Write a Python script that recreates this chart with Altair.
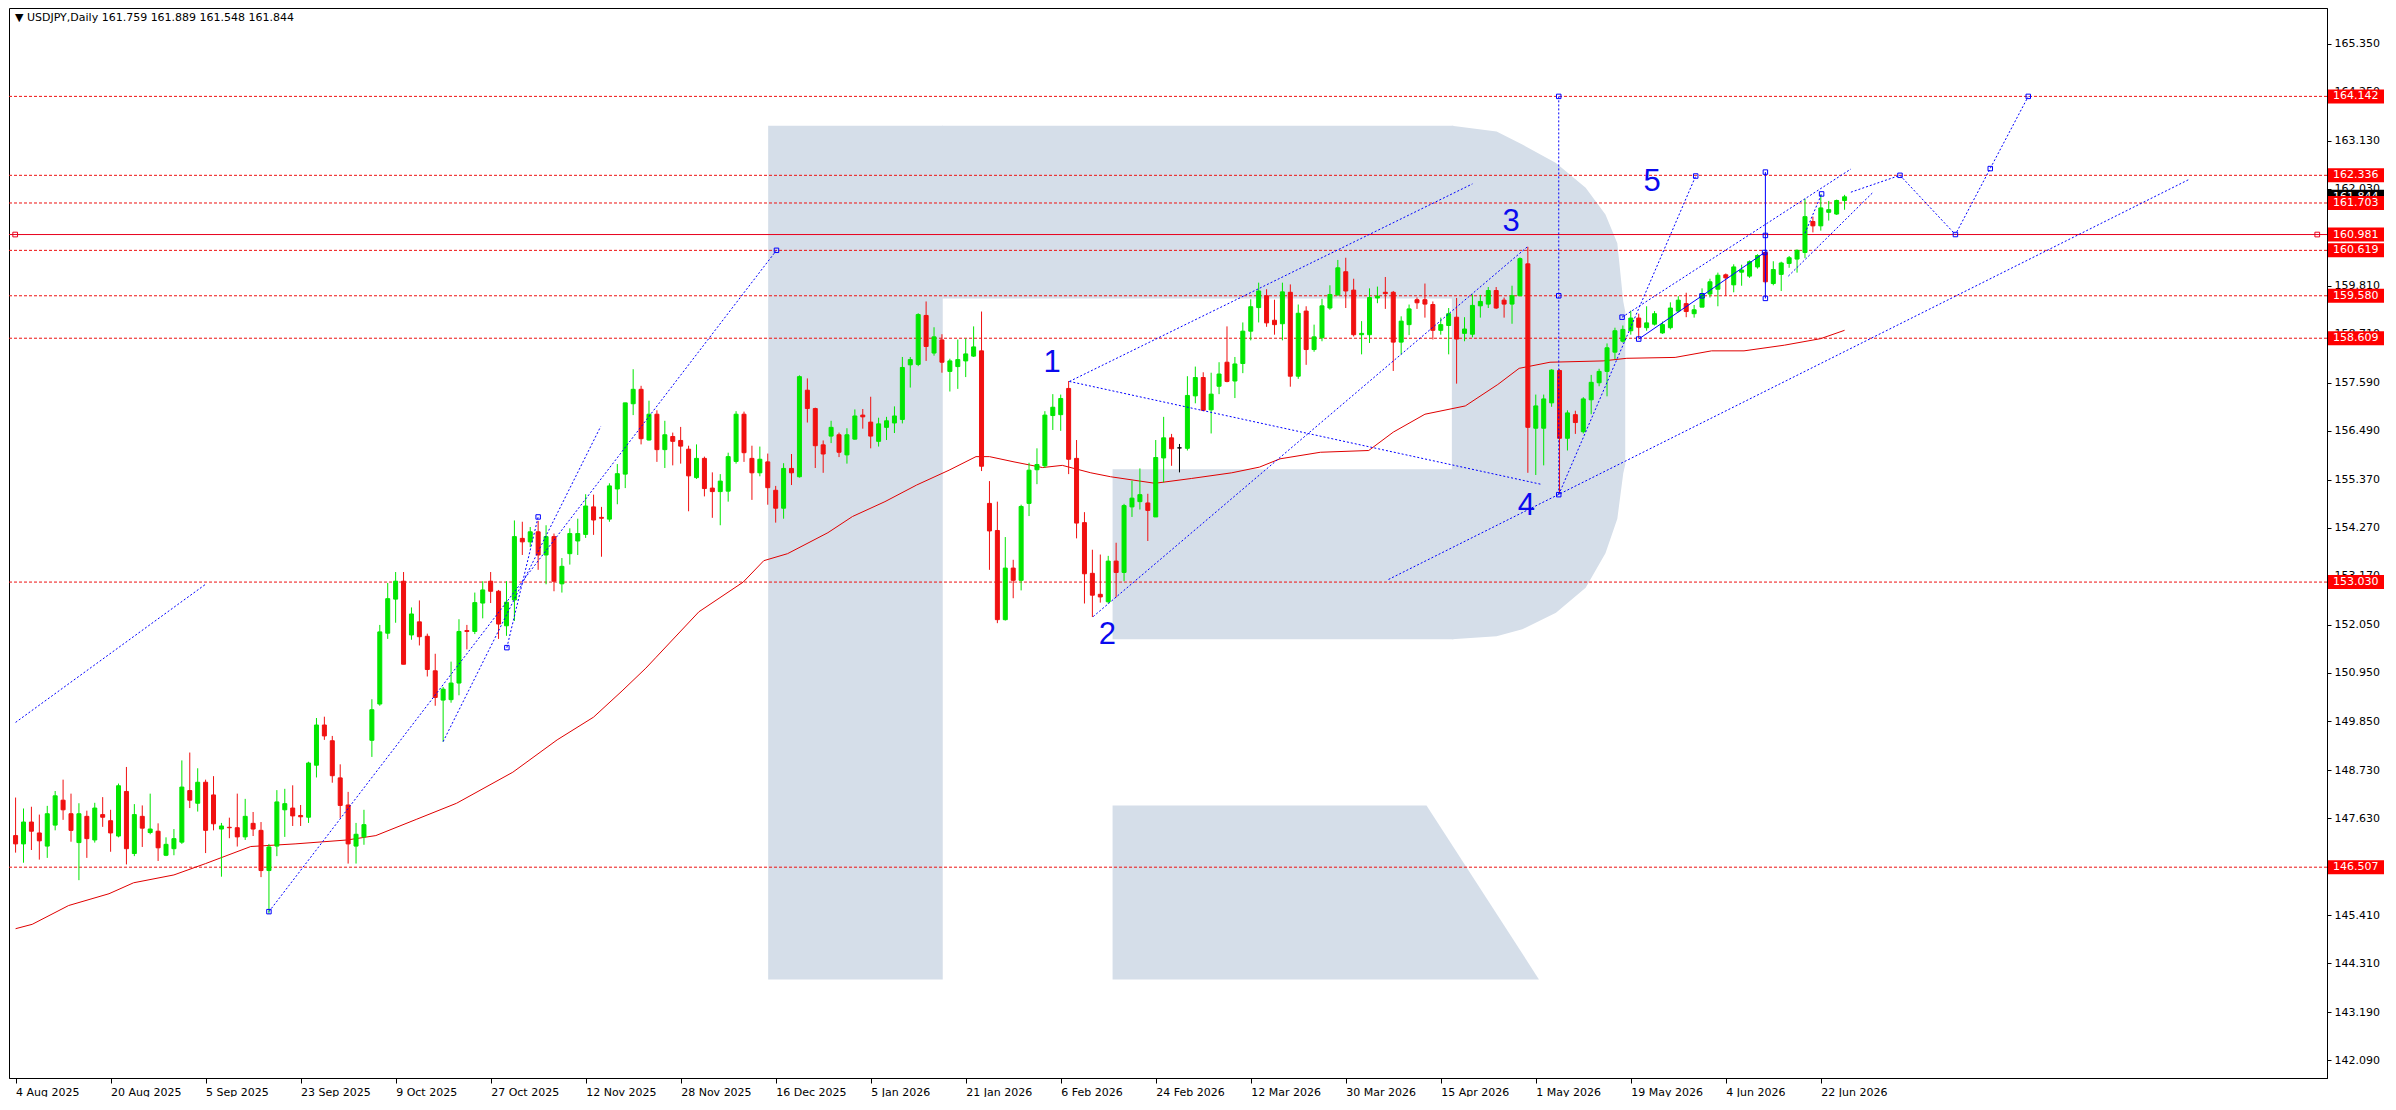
import altair as alt
import pandas as pd

# ---------------- data (bar index 0 = 4 Aug 2025) ----------------
OPEN = [147.23,147.04,147.54,147.29,146.99,147.47,148.04,147.73,147.07,147.67,
        147.13,147.71,147.57,147.22,148.24,146.82,147.67,147.30,147.33,146.78,
        146.93,147.08,148.26,147.97,148.45,148.16,147.38,147.42,147.41,147.20,
        147.51,147.35,146.43,146.99,147.82,147.86,147.69,147.65,148.84,149.76,
        149.40,148.55,147.93,146.99,147.20,149.41,150.24,151.86,152.64,153.05,
        151.82,152.12,151.79,151.00,150.33,150.34,150.72,151.92,151.90,152.55,
        153.05,152.82,152.03,152.62,154.03,153.95,154.18,153.65,154.07,152.99,
        153.68,153.97,154.12,154.75,154.51,154.47,155.16,155.50,157.11,157.44,
        156.28,156.87,156.06,156.36,156.27,156.07,155.42,155.86,155.18,155.10,
        155.11,155.79,156.87,155.86,155.53,155.78,155.13,154.72,155.63,155.44,
        157.42,157.00,156.17,156.37,156.40,155.94,156.30,156.85,156.69,156.25,
        156.57,156.67,156.75,158.00,158.01,159.13,158.27,158.57,157.85,157.96,
        158.09,158.20,158.32,154.83,154.21,152.17,153.35,153.07,154.83,155.60,
        155.69,156.84,156.86,157.46,155.86,154.39,153.23,152.75,152.58,153.51,
        153.25,154.75,154.87,154.84,154.52,155.87,156.33,156.10,156.09,157.29,
        157.71,156.97,157.51,158.06,157.63,158.03,158.77,159.31,159.58,159.02,
        158.94,159.66,157.74,159.23,158.35,158.62,159.30,159.60,160.13,159.71,
        158.69,158.69,159.53,159.66,159.66,158.52,158.92,159.49,159.49,159.38,
        158.79,158.90,159.09,158.72,158.70,159.35,159.39,159.70,159.48,159.39,
        159.58,160.31,156.55,156.55,157.13,157.87,156.32,156.86,156.47,157.20,
        157.59,157.85,158.29,158.54,158.78,159.07,158.85,158.93,158.73,158.85,
        159.23,159.40,159.17,159.32,159.62,159.73,160.06,159.83,160.12,160.03,
        160.24,160.57,159.86,160.07,160.32,160.42,160.57,161.28,161.18,161.49,
        161.45,161.759]
HIGH = [148.10,147.85,147.89,147.71,147.91,148.25,148.51,148.19,147.97,147.80,
        147.98,148.11,147.82,148.42,148.80,147.95,147.92,148.19,147.51,147.19,
        147.38,148.95,149.13,148.77,148.51,148.59,147.52,147.64,148.19,148.07,
        147.77,147.54,147.04,148.27,148.30,148.38,147.93,148.92,149.92,149.95,
        149.51,148.86,148.23,147.52,147.82,150.35,152.05,153.01,153.26,153.26,
        152.45,152.61,151.85,151.39,150.63,151.21,152.18,152.05,152.79,153.05,
        153.26,152.85,153.05,154.44,154.41,154.29,154.43,154.33,154.14,153.58,
        154.26,154.48,155.04,155.03,154.75,155.29,155.73,157.13,157.90,157.52,
        157.18,156.96,156.72,156.45,156.58,156.15,156.18,155.90,155.54,155.50,
        155.99,156.94,156.93,156.15,156.13,155.97,155.23,155.75,155.96,157.76,
        157.69,157.02,156.27,156.72,156.45,156.55,156.98,156.99,157.27,156.79,
        156.81,157.05,158.18,158.18,159.18,159.45,158.86,158.70,158.14,158.58,
        158.60,158.88,159.22,155.34,154.87,154.06,153.54,154.80,155.76,156.09,
        156.94,157.33,157.32,157.63,156.28,154.63,153.77,153.66,153.63,153.93,
        154.82,155.35,155.63,155.05,156.28,156.81,156.42,156.19,157.74,157.96,
        157.83,157.82,158.06,158.88,158.18,158.97,159.50,159.88,159.73,159.49,
        159.88,159.84,159.38,159.34,158.92,159.51,159.82,160.40,160.45,159.97,
        159.00,159.75,159.79,160.01,159.69,159.11,159.38,159.54,159.86,159.45,
        159.08,159.30,159.53,159.09,159.61,159.60,159.78,159.78,159.54,159.81,
        160.46,160.70,157.32,157.32,157.90,157.90,156.96,156.95,157.26,157.77,
        157.91,158.49,158.85,158.90,159.24,159.17,159.34,159.23,158.99,159.43,
        159.57,159.65,159.37,159.75,159.97,160.11,160.09,160.30,160.29,160.39,
        160.53,160.60,160.37,160.36,160.49,160.64,161.80,161.39,161.90,161.75,
        161.78,161.889]
LOW = [146.84,146.61,146.90,146.68,146.72,147.35,147.59,147.09,146.21,146.72,
       147.07,147.43,146.86,147.19,146.57,146.76,146.97,147.26,146.65,146.76,
       146.78,147.04,147.86,147.78,146.83,147.35,146.29,147.17,146.98,147.13,
       147.22,146.28,145.44,146.76,147.20,147.45,147.45,147.52,148.56,149.42,
       148.44,147.63,146.59,146.59,147.02,149.03,150.20,151.73,152.10,151.15,
       151.71,151.58,150.87,150.20,149.38,150.27,150.44,151.49,151.84,152.20,
       152.55,151.73,151.80,152.14,153.65,153.83,153.31,152.98,152.82,152.79,
       153.43,153.65,154.04,154.11,153.61,154.41,154.81,155.18,156.85,156.18,
       156.27,155.78,155.64,155.70,155.74,154.65,155.39,154.99,154.50,154.33,
       154.87,155.74,155.78,154.91,155.45,154.80,154.39,154.48,155.25,155.42,
       156.68,155.64,155.53,156.21,155.89,155.74,156.29,156.54,156.09,156.13,
       156.28,156.44,156.66,157.48,157.97,158.09,158.21,157.82,157.39,157.45,
       157.72,158.18,155.57,153.31,152.09,152.15,152.66,152.84,154.54,155.27,
       155.64,156.51,156.49,155.50,154.03,152.54,152.23,152.56,152.54,152.68,
       153.05,154.52,154.69,153.97,154.52,155.31,155.69,155.54,156.04,157.12,
       156.94,156.43,157.33,157.60,157.24,157.81,158.56,158.97,158.87,158.69,
       158.56,157.50,157.68,158.00,158.30,158.54,159.26,159.58,159.30,158.65,
       158.24,158.50,159.41,159.28,157.86,158.24,158.68,159.28,159.08,158.58,
       158.69,158.24,157.57,158.54,158.63,159.08,159.30,159.28,159.08,158.94,
       159.58,155.53,155.48,155.70,157.04,155.06,156.04,156.42,156.43,156.87,
       157.51,157.28,158.13,158.51,158.69,158.60,158.78,158.90,158.71,158.81,
       159.20,159.09,159.08,159.32,159.54,159.34,159.58,159.66,159.81,159.99,
       160.20,159.86,159.82,159.69,160.22,160.11,160.44,161.03,161.07,161.30,
       161.43,161.548]
CLOSE = [147.04,147.54,147.33,147.11,147.73,148.14,147.82,147.35,147.73,147.16,
         147.86,147.65,147.29,148.37,146.93,147.71,147.40,147.38,146.95,147.03,
         147.16,148.34,148.04,148.45,147.35,147.50,147.45,147.41,147.20,147.67,
         147.38,146.43,146.97,148.00,147.96,147.68,147.66,148.89,149.76,149.51,
         148.60,147.92,147.04,147.26,147.48,150.11,151.89,152.65,153.05,151.15,
         152.30,151.78,151.03,150.39,150.58,150.72,151.90,151.90,152.56,152.85,
         152.82,152.07,152.57,154.07,153.95,154.18,153.65,154.07,153.05,153.39,
         154.14,154.14,154.77,154.45,154.49,155.23,155.51,157.13,157.44,156.31,
         156.87,156.06,156.40,156.25,156.14,155.46,155.86,155.17,155.10,155.34,
         155.90,156.87,155.99,155.53,155.84,155.19,154.72,155.63,155.53,157.73,
         157.00,156.15,155.96,156.57,156.00,156.40,156.83,156.81,156.37,156.65,
         156.72,156.83,157.94,158.12,159.15,158.42,158.64,158.06,158.09,158.12,
         158.25,158.41,155.68,154.20,152.17,153.35,153.07,154.76,155.59,155.72,
         156.85,157.03,157.23,155.84,154.38,153.22,152.73,152.69,153.51,153.25,
         154.78,154.95,155.03,154.67,155.88,156.33,156.08,156.10,157.30,157.71,
         156.96,157.33,157.79,157.62,158.02,158.77,159.33,159.69,158.96,158.92,
         159.67,157.74,159.18,158.35,158.64,159.35,159.61,160.22,159.69,158.69,
         158.72,159.54,159.57,159.63,158.52,159.00,159.28,159.42,159.39,158.79,
         158.92,159.17,158.59,158.82,159.36,159.45,159.70,159.30,159.39,159.58,
         160.43,156.57,157.06,157.22,157.88,156.32,156.90,156.68,157.22,157.60,
         157.85,158.39,158.78,158.81,159.07,158.86,158.96,159.17,158.92,159.30,
         159.48,159.22,159.26,159.62,159.90,160.05,159.99,160.24,160.17,160.36,
         160.50,159.90,160.18,160.33,160.45,160.62,161.39,161.18,161.59,161.55,
         161.76,161.844]

# 50-period moving average (bar index, price)
MA_BAR = [0, 2.1, 6.7, 11.8, 14.9, 20, 24, 29.7, 35.3, 41.9, 45.5, 50.6, 55.7,
          62.8, 68.4, 73, 76.6, 79.6, 80.9, 86.3, 91.9, 94.5, 97.5, 102.6, 105.7,
          109.8, 113.8, 117.9, 121.3, 123, 126.1, 129.7, 132.2, 135.8, 138.3,
          143.9, 148.5, 153.6, 157.1, 159.7, 164.8, 170.9, 174, 178, 183.1, 187.2,
          189.9, 193.8, 200.5, 203.5, 209.6, 214.2, 218.3, 223.4, 228, 231]
MA_VAL = [145.10, 145.20, 145.63, 145.90, 146.15, 146.33, 146.59, 146.98, 147.04,
          147.13, 147.23, 147.60, 147.97, 148.68, 149.42, 149.94, 150.54, 151.06,
          151.31, 152.35, 153.03, 153.52, 153.68, 154.16, 154.53, 154.87, 155.25,
          155.59, 155.90, 155.90, 155.78, 155.65, 155.70, 155.53, 155.44, 155.29,
          155.40, 155.53, 155.66, 155.85, 156.00, 156.04, 156.46, 156.87, 157.06,
          157.55, 157.92, 158.06, 158.09, 158.15, 158.17, 158.32, 158.32, 158.45,
          158.60, 158.79]

LEVELS_DASHED = [164.142, 162.336, 161.703, 160.619, 159.580, 158.609, 153.030, 146.507]
LEVEL_SOLID = 160.981
CURRENT = 161.844
LEVEL_LABELS = ["164.142", "162.336", "161.703", "160.619", "159.580", "158.609",
                "153.030", "146.507"]

Y_TICKS = [165.350, 164.250, 163.130, 162.030, 160.920, 159.810, 158.710, 157.590,
           156.490, 155.370, 154.270, 153.170, 152.050, 150.950, 149.850, 148.730,
           147.630, 146.530, 145.410, 144.310, 143.190, 142.090]
X_TICK_BARS = [0, 12, 24, 36, 48, 60, 72, 84, 96, 108, 120, 132, 144, 156, 168,
               180, 192, 204, 216, 228]
X_TICK_LABELS = ["4 Aug 2025", "20 Aug 2025", "5 Sep 2025", "23 Sep 2025",
                 "9 Oct 2025", "27 Oct 2025", "12 Nov 2025", "28 Nov 2025",
                 "16 Dec 2025", "5 Jan 2026", "21 Jan 2026", "6 Feb 2026",
                 "24 Feb 2026", "12 Mar 2026", "30 Mar 2026", "15 Apr 2026",
                 "1 May 2026", "19 May 2026", "4 Jun 2026", "22 Jun 2026"]

# blue dotted analysis lines: (id, bar, price)
DOT_ID = ["a","a","b","b","c","c","d","d","e","e","f","f","g","g","h","h","i","i",
          "v","v","k","k","m","m","n","n","p","p","p","p"]
DOT_X = [0.0, 24.0, 32.0, 96.1, 54.0, 73.9, 62.05, 66.0, 133.1, 192.6, 133.1, 184.0,
         136.1, 191.0, 173.4, 274.6, 194.9, 212.2, 194.9, 194.9, 202.9, 231.8,
         223.9, 234.5, 226.0, 228.1, 231.8, 238.0, 245.0, 254.2]
DOT_Y = [149.82, 152.98, 145.49, 160.62, 149.38, 156.59, 151.53, 154.52, 157.62,
         155.27, 157.62, 162.14, 152.24, 160.71, 153.09, 162.25, 155.03, 162.32,
         164.142, 155.03, 159.09, 162.48, 160.03, 161.93, 161.01, 161.91, 161.95,
         162.336, 160.981, 164.142]
SOLID_ID = ["s", "s", "s", "t", "t"]
SOLID_X = [205.0, 213.0, 220.9, 221.0, 221.0]
SOLID_Y = [158.59, 159.58, 160.57, 162.41, 159.52]
MARK_X = [32.0, 96.1, 62.05, 66.0, 194.9, 194.9, 194.9, 212.2, 202.9, 205.0, 213.0,
          220.9, 221.0, 221.0, 221.0, 228.1, 238.0, 245.0, 249.4, 254.2]
MARK_Y = [145.49, 160.62, 151.53, 154.52, 164.142, 159.58, 155.03, 162.32, 159.09,
          158.59, 159.58, 160.57, 162.41, 160.96, 159.52, 161.91, 162.336, 160.981,
          162.49, 164.142]

WAVE_TEXT = ["1", "2", "3", "4", "5"]
WAVE_X = [130.9, 137.9, 188.9, 190.8, 206.7]
WAVE_Y = [158.05, 151.83, 161.27, 154.77, 162.18]

# watermark "R" logo pieces (bar index / price units)
LOGO_RX = [95.05, 117.0, 138.55]
LOGO_RX2 = [117.1, 181.6, 181.6]
LOGO_RY = [143.94, 159.52, 151.72]
LOGO_RY2 = [163.47, 163.47, 155.61]
BOWL_X = [181.4, 187.05, 190.3, 194.55, 198.3, 200.8, 202.3, 203.05, 203.3]
BOWL_TOP = [163.47, 163.34, 163.04, 162.62, 162.05, 161.44, 160.78, 159.45, 159.22]
BOWL_BOT = [151.72, 151.79, 151.95, 152.33, 152.90, 153.69, 154.48, 155.52, 155.72]
LEG_X = [138.55, 178.2, 192.4]
LEG_TOP = [147.92, 147.92, 143.94]
LEG_BOT = [143.94, 143.94, 143.94]

HEADER = "\u25BC USDJPY,Daily  161.759 161.889 161.548 161.844"

# ---------------- build ----------------
W, H = 2318, 1070
XDOM = [-0.2, 291.3]
YDOM = [141.684, 166.164]
FONT = "DejaVu Sans"
BLUE = "#0000ff"
RED = "#ee1111"

n = len(OPEN)
dirs = ["up" if c > o else ("down" if c < o else "doji") for o, c in zip(OPEN, CLOSE)]
candles = pd.DataFrame({
    "x": list(range(n)), "o": OPEN, "h": HIGH, "l": LOW, "c": CLOSE, "dir": dirs,
    "bt": [max(o, c) for o, c in zip(OPEN, CLOSE)],
    "bb": [min(o, c) for o, c in zip(OPEN, CLOSE)],
})
ma = pd.DataFrame({"x": MA_BAR, "y": MA_VAL})
lv = pd.DataFrame({"y": LEVELS_DASHED, "t": LEVEL_LABELS})
lsolid = pd.DataFrame({"y": [LEVEL_SOLID], "t": ["160.981"]})
lcur = pd.DataFrame({"y": [CURRENT], "t": ["161.844"]})
lsq = pd.DataFrame({"x": [-0.05, 290.7], "y": [LEVEL_SOLID, LEVEL_SOLID]})
dots = pd.DataFrame({"id": DOT_ID, "x": DOT_X, "y": DOT_Y, "k": list(range(len(DOT_X)))})
solid = pd.DataFrame({"id": SOLID_ID, "x": SOLID_X, "y": SOLID_Y, "k": list(range(len(SOLID_X)))})
marks = pd.DataFrame({"x": MARK_X, "y": MARK_Y})
waves = pd.DataFrame({"x": WAVE_X, "y": WAVE_Y, "t": WAVE_TEXT})
logo_r = pd.DataFrame({"x": LOGO_RX, "x2": LOGO_RX2, "y": LOGO_RY, "y2": LOGO_RY2})
bowl = pd.DataFrame({"x": BOWL_X, "y": BOWL_TOP, "y2": BOWL_BOT})
leg = pd.DataFrame({"x": LEG_X, "y": LEG_TOP, "y2": LEG_BOT})
header = pd.DataFrame({"t": [HEADER]})

xs = alt.Scale(domain=XDOM, nice=False, zero=False)
ys = alt.Scale(domain=YDOM, nice=False, zero=False)
label_expr = "[" + ",".join("'%s'" % s for s in X_TICK_LABELS) + "][round(datum.value / 12)]"
xaxis = alt.Axis(values=X_TICK_BARS, labelExpr=label_expr, title=None, grid=False,
                 orient="bottom", labelAlign="left", labelFlush=False, labelOverlap=False,
                 tickSize=5, labelPadding=3, labelFont=FONT, labelFontSize=11,
                 labelColor="black", tickColor="black", domainColor="black")
yaxis = alt.Axis(values=Y_TICKS, format=".3f", title=None, grid=False, orient="right",
                 labelOverlap=False, labelFlush=False, tickSize=4, labelPadding=3,
                 labelFont=FONT, labelFontSize=11, labelColor="black",
                 tickColor="black", domainColor="black")


def X(f):
    return alt.X(f, type="quantitative", scale=xs, axis=xaxis)


def Y(f):
    return alt.Y(f, type="quantitative", scale=ys, axis=yaxis, stack=None)


CANDLE_SCALE = alt.Scale(domain=["up", "down", "doji"],
                         range=["#00e600", "#f01010", "#000000"])

logo_color = "#d5dee9"
l_logo_rect = alt.Chart(logo_r).mark_rect(color=logo_color).encode(
    x=X("x"), x2="x2", y=Y("y"), y2="y2")
l_bowl = alt.Chart(bowl).mark_area(color=logo_color, opacity=1).encode(
    x=X("x"), y=Y("y"), y2="y2")
l_leg = alt.Chart(leg).mark_area(color=logo_color, opacity=1).encode(
    x=X("x"), y=Y("y"), y2="y2")

l_levels = alt.Chart(lv).mark_rule(strokeWidth=1, strokeDash=[3, 2]).encode(
    y=Y("y"), color=alt.value(RED))
l_solid = alt.Chart(lsolid).mark_rule(strokeWidth=1).encode(
    y=Y("y"), color=alt.value("#e8001c"))
l_lsq = alt.Chart(lsq).mark_square(filled=False, size=22, strokeWidth=1,
                                   opacity=1).encode(x=X("x"), y=Y("y"),
                                                     color=alt.value("#e8001c"))

l_ma = alt.Chart(ma).mark_line(strokeWidth=1).encode(
    x=X("x"), y=Y("y"), order="x:Q", color=alt.value("#e00000"))

l_wick = alt.Chart(candles).mark_rule(strokeWidth=1).encode(
    x=X("x"), y=Y("l"), y2="h",
    color=alt.Color("dir:N", scale=CANDLE_SCALE, legend=None))
l_body = alt.Chart(candles).mark_bar(size=4, strokeWidth=1).encode(
    x=X("x"), y=Y("bb"), y2="bt",
    color=alt.Color("dir:N", scale=CANDLE_SCALE, legend=None),
    stroke=alt.Stroke("dir:N", scale=CANDLE_SCALE, legend=None))

l_dots = alt.Chart(dots).mark_line(strokeWidth=1, strokeDash=[2, 2]).encode(
    x=X("x"), y=Y("y"), detail="id:N", order="k:Q", color=alt.value(BLUE))
l_solidb = alt.Chart(solid).mark_line(strokeWidth=1).encode(
    x=X("x"), y=Y("y"), detail="id:N", order="k:Q", color=alt.value(BLUE))
l_marks = alt.Chart(marks).mark_square(filled=False, size=20, strokeWidth=1,
                                       opacity=1).encode(x=X("x"), y=Y("y"),
                                                         color=alt.value(BLUE))
l_waves = alt.Chart(waves).mark_text(font="Liberation Sans", fontSize=31,
                                     baseline="middle", align="center").encode(
    x=X("x"), y=Y("y"), text="t:N", color=alt.value("#0a0aee"))

l_header = alt.Chart(header).mark_text(font=FONT, fontSize=11,
                                       align="left", baseline="middle").encode(
    x=alt.value(6), y=alt.value(10), text="t:N", color=alt.value("black"))

BOX_X = W + 29
l_cur_box = alt.Chart(lcur).mark_tick(thickness=14, size=56,
                                      orient="horizontal", opacity=1).encode(
    x=alt.value(BOX_X), y=Y("y"), color=alt.value("black"))
l_cur_txt = alt.Chart(lcur).mark_text(font=FONT, fontSize=11,
                                      align="left", baseline="middle").encode(
    x=alt.value(W + 6), y=Y("y"), text="t:N", color=alt.value("white"))
lv_all = pd.concat([lv, lsolid], ignore_index=True)
l_lv_box = alt.Chart(lv_all).mark_tick(thickness=14, size=56,
                                       orient="horizontal", opacity=1).encode(
    x=alt.value(BOX_X), y=Y("y"), color=alt.value("#ff0000"))
l_lv_txt = alt.Chart(lv_all).mark_text(font=FONT, fontSize=11,
                                       align="left", baseline="middle").encode(
    x=alt.value(W + 6), y=Y("y"), text="t:N", color=alt.value("white"))

chart = alt.layer(
    l_logo_rect, l_bowl, l_leg, l_levels, l_solid, l_lsq, l_ma, l_wick, l_body,
    l_dots, l_solidb, l_marks, l_waves, l_header,
    l_cur_box, l_cur_txt, l_lv_box, l_lv_txt,
).properties(
    width=W, height=H, background="white",
    padding={"left": 0, "top": 0, "right": 0, "bottom": 0},
).configure_view(stroke="black", strokeWidth=1)

chart.save("out.html", embed_options={"renderer": "svg", "actions": False})
